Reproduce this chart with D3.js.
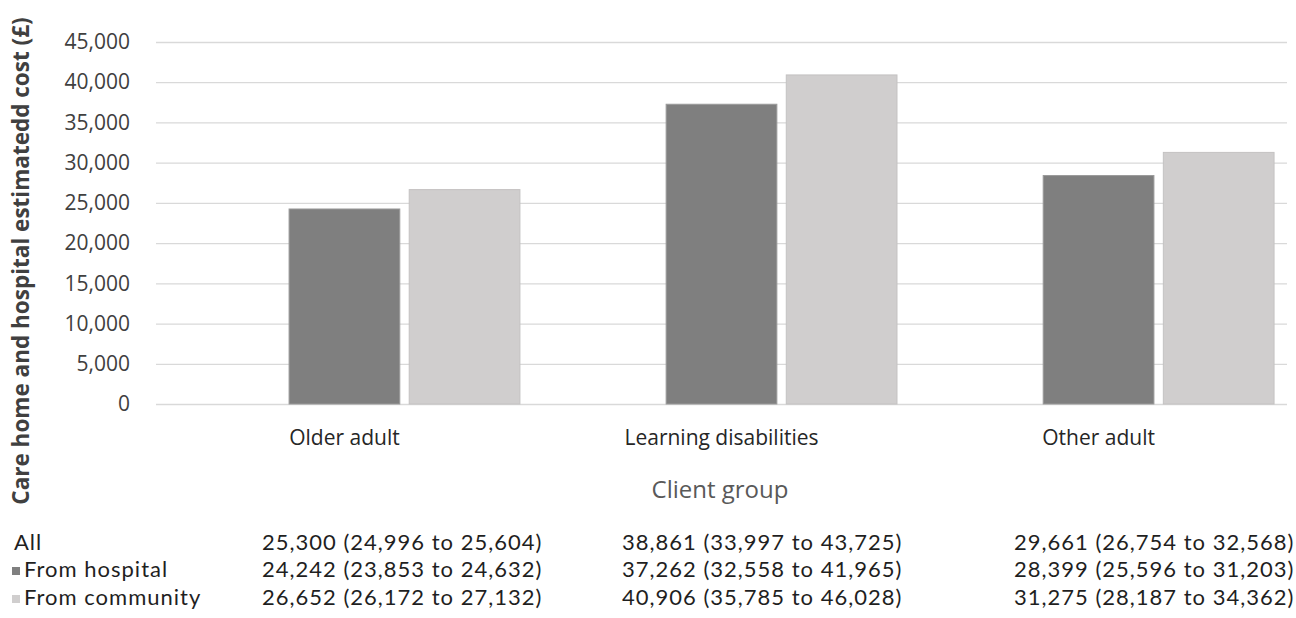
<!DOCTYPE html>
<html>
<head>
<meta charset="utf-8">
<script src="https://cdn.jsdelivr.net/npm/d3@7"></script>
<style>
  html, body { margin: 0; padding: 0; background: #ffffff; }
  svg { display: block; font-family: "Open Sans", Lato, sans-serif; }
</style>
</head>
<body>
<svg id="chart" width="1296" height="618"></svg>
<script>
// ---- data ----
const categories = ["Older adult", "Learning disabilities", "Other adult"];
const seriesNames = ["All", "From hospital", "From community"];
const allValues = [25300, 38861, 29661];
const allLow = [24996, 33997, 26754];
const allHigh = [25604, 43725, 32568];
const hospitalValues = [24242, 37262, 28399];
const hospitalLow = [23853, 32558, 25596];
const hospitalHigh = [24632, 41965, 31203];
const communityValues = [26652, 40906, 31275];
const communityLow = [26172, 35785, 28187];
const communityHigh = [27132, 46028, 34362];
const yTicks = [0, 5000, 10000, 15000, 20000, 25000, 30000, 35000, 40000, 45000];
const yTitle = "Care home and hospital estimatedd cost (£)";
const xTitle = "Client group";

// ---- layout ----
const W = 1296, H = 618;
const plot = { left: 156, right: 1287, top: 42, bottom: 404 };
const fontSize = 21;
const tableFont = 22;
const colHospital = "#7f7f7f", colCommunity = "#d0cece";

const svg = d3.select("#chart");
const fmt = d3.format(",");

const y = d3.scaleLinear().domain([0, 45000]).range([plot.bottom, plot.top]);
const x0 = d3.scaleBand().domain(categories).range([plot.left, plot.right])
  .paddingInner(0.0665).paddingOuter(0.033);
const x1 = d3.scaleBand().domain(seriesNames).range([0, x0.bandwidth()]).paddingInner(0.07);

// gridlines + tick labels via axis
const yAxis = d3.axisLeft(y).tickValues(yTicks).tickFormat(fmt)
  .tickSize(-(plot.right - plot.left)).tickPadding(26);
const gy = svg.append("g").attr("transform", `translate(${plot.left},0)`).call(yAxis);
gy.select(".domain").remove();
gy.selectAll(".tick line").attr("stroke", "#d9d9d9").attr("stroke-width", 1.3);
gy.selectAll(".tick text").attr("fill", "#404040")
  .style("font-size", fontSize + "px").style("font-family", "'Open Sans', sans-serif");

// bars (the "All" series occupies its slot but has no fill)
const rows = categories.map((c, i) => ({ cat: c, vals: [
  { s: "All", v: allValues[i], fill: "none", stroke: "none" },
  { s: "From hospital", v: hospitalValues[i], fill: colHospital, stroke: "#9a9a9a" },
  { s: "From community", v: communityValues[i], fill: colCommunity, stroke: "#c4c2c2" }
]}));
const groups = svg.append("g").selectAll("g").data(rows).join("g")
  .attr("transform", d => `translate(${x0(d.cat)},0)`);
groups.selectAll("rect").data(d => d.vals).join("rect")
  .attr("x", d => x1(d.s) + 0.5)
  .attr("width", x1.bandwidth() - 1)
  .attr("y", d => y(d.v))
  .attr("height", d => y(0) - y(d.v))
  .attr("fill", d => d.fill)
  .attr("stroke", d => d.stroke)
  .attr("stroke-width", 1);

// category labels
svg.append("g").selectAll("text").data(categories).join("text")
  .attr("x", d => x0(d) + x0.bandwidth() / 2)
  .attr("y", 445)
  .attr("text-anchor", "middle")
  .attr("fill", "#262626")
  .style("font-size", fontSize + "px")
  .text(d => d);

// x title
svg.append("text").attr("x", 720).attr("y", 498).attr("text-anchor", "middle")
  .attr("fill", "#595959").style("font-size", "24px").text(xTitle);

// y title
svg.append("text")
  .attr("transform", "translate(29,261) rotate(-90)")
  .attr("text-anchor", "middle")
  .attr("fill", "#404040")
  .style("font-size", "22.5px").style("font-weight", "bold")
  .text(yTitle);

// data table under the chart
const tableRows = [
  { label: "All", key: null, vals: allValues, lo: allLow, hi: allHigh, y: 550 },
  { label: "From hospital", key: colHospital, vals: hospitalValues, lo: hospitalLow, hi: hospitalHigh, y: 577 },
  { label: "From community", key: colCommunity, vals: communityValues, lo: communityLow, hi: communityHigh, y: 605 }
];
const colX = [262, 622, 1014];
const tg = svg.append("g")
  .style("font-family", "Lato, 'Open Sans', sans-serif")
  .style("font-size", tableFont + "px")
  .style("letter-spacing", "1px")
  .attr("fill", "#1f1f1f");
tableRows.forEach(r => {
  if (r.key) {
    tg.append("rect").attr("x", 12).attr("y", r.y - 10).attr("width", 8).attr("height", 8).attr("fill", r.key);
    tg.append("text").attr("x", 24).attr("y", r.y).text(r.label);
  } else {
    tg.append("text").attr("x", 14).attr("y", r.y).text(r.label);
  }
  categories.forEach((c, i) => {
    tg.append("text").attr("x", colX[i]).attr("y", r.y)
      .text(`${fmt(r.vals[i])} (${fmt(r.lo[i])} to ${fmt(r.hi[i])})`);
  });
});
</script>
</body>
</html>
